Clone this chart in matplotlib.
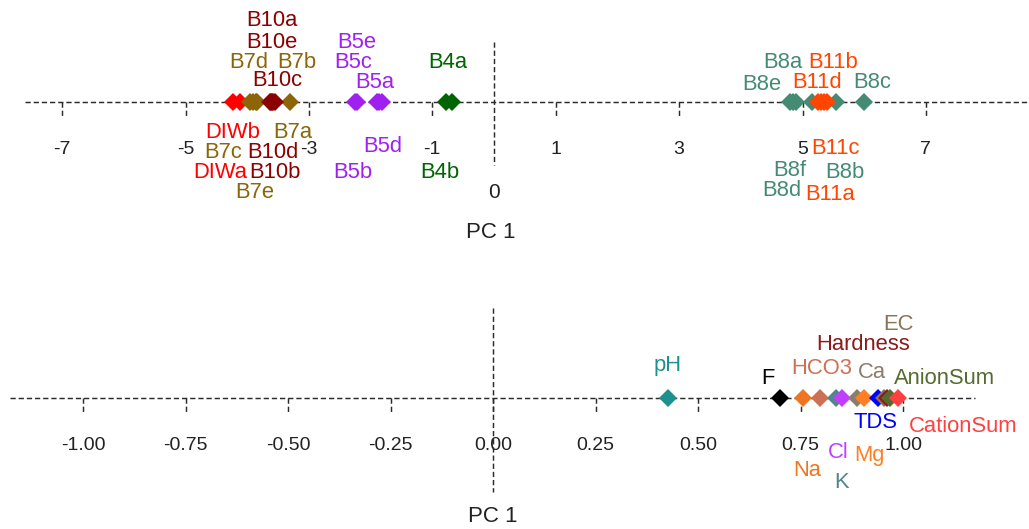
import matplotlib
matplotlib.use("Agg")
import matplotlib.pyplot as plt

plt.rcParams['font.family'] = ['Liberation Sans', 'DejaVu Sans']

# ---- sample scores on PC 1 ----
samples = ['DIWa', 'DIWb',
           'B7a', 'B7b', 'B7c', 'B7d', 'B7e',
           'B10a', 'B10b', 'B10c', 'B10d', 'B10e',
           'B5a', 'B5b', 'B5c', 'B5d', 'B5e',
           'B4a', 'B4b',
           'B8a', 'B8b', 'B8c', 'B8d', 'B8e', 'B8f',
           'B11a', 'B11b', 'B11c', 'B11d']
scores = [-4.23, -4.12,
          -3.31, -3.86, -3.95, -3.90, -3.84,
          -3.62, -3.58, -3.60, -3.55, -3.63,
          -1.82, -2.25, -2.22, -1.90, -1.86,
          -0.78, -0.68,
          4.85, 5.55, 6.00, 4.90, 4.80, 5.15,
          5.25, 5.30, 5.35, 5.40]
group_of = {'DIW': '#FF0000', 'B7': '#8B6508', 'B10': '#8B0000',
            'B5': '#A020F0', 'B4': '#006400', 'B8': '#458B74', 'B11': '#FF4500'}

# ---- variable loadings on PC 1 ----
variables = ['pH', 'F', 'Na', 'HCO3', 'K', 'Cl', 'Ca', 'Mg', 'TDS',
             'EC', 'Hardness', 'AnionSum', 'CationSum']
loadings = [0.427, 0.700, 0.755, 0.797, 0.836, 0.850, 0.888, 0.906, 0.940,
            0.953, 0.960, 0.968, 0.987]
var_colors = ['#1E9090', '#000000', '#EE7621', '#CD7054', '#53868B', '#BF3EFF',
              '#8B7D6B', '#FF7F24', '#0000FF', '#8B7355', '#8B1A1A', '#556B2F', '#FF4040']

# ---- label placement (x in data units, y in px from axis line) ----
sample_lab_pos = {
    'B10a': (-3.60, 82), 'B10e': (-3.60, 60), 'B7d': (-3.98, 40), 'B7b': (-3.19, 40),
    'B10c': (-3.52, 22), 'B5e': (-2.22, 60), 'B5c': (-2.29, 40), 'B5a': (-1.93, 19),
    'B4a': (-0.75, 40), 'DIWb': (-4.23, -30), 'B7a': (-3.26, -30), 'B7c': (-4.39, -50),
    'B10d': (-3.58, -50), 'B5d': (-1.80, -45), 'DIWa': (-4.44, -70), 'B10b': (-3.55, -70),
    'B5b': (-2.29, -70), 'B4b': (-0.88, -70), 'B7e': (-3.87, -91),
    'B8a': (4.68, 40), 'B11b': (5.49, 40), 'B8e': (4.34, 17), 'B11d': (5.23, 20),
    'B8c': (6.13, 20), 'B11c': (5.53, -46), 'B8f': (4.80, -68), 'B8b': (5.69, -70),
    'B8d': (4.67, -88), 'B11a': (5.45, -93)}
var_lab_pos = {
    'pH': (0.427, 33), 'F': (0.671, 20), 'HCO3': (0.802, 30), 'Hardness': (0.902, 53),
    'EC': (0.988, 73), 'Ca': (0.924, 25), 'AnionSum': (1.102, 20), 'TDS': (0.932, -25),
    'CationSum': (1.146, -29), 'Cl': (0.841, -54), 'Mg': (0.917, -57), 'Na': (0.766, -72),
    'K': (0.851, -84)}

top_ticks = [-7, -5, -3, -1, 1, 3, 5, 7]
bot_ticks = [-1.0, -0.75, -0.5, -0.25, 0.0, 0.25, 0.5, 0.75, 1.0]

LINE = '#2b2b2b'
DASH = (0, (3.6, 2.0))
LW = 1.05
MS = 9.5
LAB_FS = 15.8
TICK_FS = 14
AXIS_FS = 16


def group_color(name):
    for g in ['DIW', 'B10', 'B11', 'B7', 'B5', 'B4', 'B8']:
        if name.startswith(g):
            return group_of[g]


fig = plt.figure(figsize=(10.29, 5.29), dpi=100)
W, H = 1029, 529

# top panel: figure rows 0..260, axis line at row 102, 1 unit = 61.7 px, zero at col 494
ax1 = fig.add_axes([0, 1 - 260 / H, 1, 260 / H])
ax1.set_xlim(-494 / 61.7, (W - 494) / 61.7)
ax1.set_ylim(-(260 - 102), 102)
ax1.axis('off')

ax1.plot([-7.6, 8.7], [0, 0], color=LINE, lw=LW, ls=DASH, zorder=1)
ax1.plot([0, 0], [60, -63], color=LINE, lw=LW, ls=DASH, zorder=1)
for t in top_ticks:
    ax1.plot([t, t], [0, -15], color=LINE, lw=LW, ls=DASH, zorder=1)
    ax1.text(t, -48, str(t), ha='center', va='center', fontsize=TICK_FS, color='#222222')
ax1.text(0, -91, '0', ha='center', va='center', fontsize=TICK_FS + 1, color='#222222')
ax1.text(-0.06, -131, 'PC 1', ha='center', va='center', fontsize=AXIS_FS, color='#222222')

for name, s in zip(samples, scores):
    c = group_color(name)
    ax1.plot(s, 0, marker='D', ms=MS, mew=0, color=c, zorder=3)
    lx, ly = sample_lab_pos[name]
    ax1.text(lx, ly, name, ha='center', va='center', fontsize=LAB_FS, color=c, zorder=4)

# bottom panel: figure rows 260..529, axis line at row 398, 1 unit = 410 px, zero at col 493
ax2 = fig.add_axes([0, 0, 1, (H - 260) / H])
ax2.set_xlim(-493 / 410, (W - 493) / 410)
ax2.set_ylim(-(H - 398), 398 - 260)
ax2.axis('off')

ax2.plot([-1.178, 1.176], [0, 0], color=LINE, lw=LW, ls=DASH, zorder=1)
ax2.plot([0, 0], [90, -94], color=LINE, lw=LW, ls=DASH, zorder=1)
for t in bot_ticks:
    ax2.plot([t, t], [0, -15], color=LINE, lw=LW, ls=DASH, zorder=1)
    ax2.text(t, -47, '%.2f' % t, ha='center', va='center', fontsize=TICK_FS, color='#222222')
ax2.text(0, -119, 'PC 1', ha='center', va='center', fontsize=AXIS_FS, color='#222222')

for name, v, c in zip(variables, loadings, var_colors):
    ax2.plot(v, 0, marker='D', ms=MS, mew=0, color=c, zorder=3)
    lx, ly = var_lab_pos[name]
    ax2.text(lx, ly, name, ha='center', va='center', fontsize=LAB_FS, color=c, zorder=4)

fig.savefig('out.png', dpi=100)
